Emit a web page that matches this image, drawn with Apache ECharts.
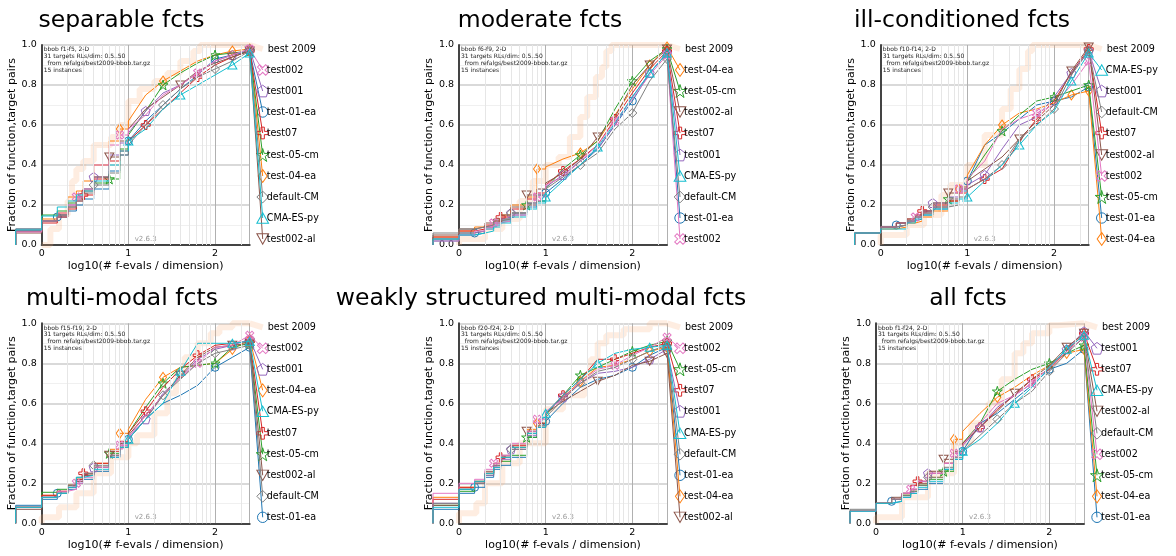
<!DOCTYPE html>
<html>
<head>
<meta charset="utf-8">
<script src="https://cdn.jsdelivr.net/npm/echarts@6/dist/echarts.min.js"></script>
<style>
    html, body { margin: 0; padding: 0; background: #fff; }
    #chart { width: 1176px; height: 556px; }
</style>
</head>
<body>
<div id="chart"></div>
<script>
    // x positions of the ECDF steps, log10(# f-evals / dimension)
    const xs = [-0.3, -0.3, 0, 0.18, 0.3, 0.4, 0.48, 0.6, 0.78, 0.9, 1.0, 1.2, 1.4, 1.6, 1.8, 2.0, 2.2, 2.4]

    const algs = ['test-01-ea', 'test-04-ea', 'test-05-cm', 'test07', 'test001', 'test002-al', 'test002', 'default-CM', 'CMA-ES-py']

    const panelTitles = ['separable fcts', 'moderate fcts', 'ill-conditioned fcts', 'multi-modal fcts', 'weakly structured multi-modal fcts', 'all fcts']
    const funcRanges = ['f1-f5', 'f6-f9', 'f10-f14', 'f15-f19', 'f20-f24', 'f1-f24']
    const xTicks = ['0', '1', '2']

    // fraction of (function,target) pairs, one row per algorithm (same order as algs)
    const sepY = [
        [0, .08, .12, .14, .17, .20, .23, .28, .37, .45, .52, .62, .70, .78, .85, .93, .95, .97],
        [0, .07, .13, .16, .24, .27, .32, .40, .52, .58, .62, .75, .82, .87, .92, .95, .97, .98],
        [0, .07, .15, .17, .21, .24, .28, .31, .33, .48, .55, .67, .80, .86, .91, .95, .96, .97],
        [0, .07, .11, .14, .18, .22, .25, .33, .42, .47, .52, .60, .68, .76, .84, .90, .94, .97],
        [0, .07, .12, .15, .20, .24, .28, .34, .45, .51, .56, .67, .76, .80, .86, .92, .95, .98],
        [0, .06, .12, .15, .19, .23, .27, .34, .44, .52, .58, .68, .74, .80, .87, .91, .94, .97],
        [0, .065, .12, .16, .20, .24, .28, .40, .50, .55, .58, .65, .75, .80, .86, .92, .95, .98],
        [0, .08, .12, .15, .19, .22, .26, .30, .36, .45, .50, .60, .70, .78, .84, .88, .92, .97],
        [0, .075, .145, .19, .22, .25, .27, .32, .40, .47, .52, .58, .68, .75, .80, .85, .90, .96]
    ]
    const modY = [
        [0, .02, .05, .06, .08, .10, .12, .15, .19, .22, .26, .33, .40, .48, .60, .72, .86, .96],
        [0, .04, .07, .09, .10, .12, .15, .20, .24, .38, .39, .43, .46, .52, .65, .78, .90, .99],
        [0, .03, .06, .07, .09, .11, .13, .16, .20, .22, .28, .38, .45, .52, .68, .82, .92, .98],
        [0, .04, .07, .08, .10, .12, .14, .18, .23, .26, .30, .37, .43, .50, .63, .76, .88, .97],
        [0, .03, .06, .07, .09, .11, .13, .16, .21, .25, .29, .35, .42, .48, .60, .74, .86, .96],
        [0, .05, .08, .09, .11, .13, .15, .19, .25, .28, .31, .36, .43, .54, .64, .80, .90, .98],
        [0, .02, .05, .07, .09, .11, .12, .15, .20, .24, .30, .34, .42, .50, .62, .73, .85, .95],
        [0, .06, .08, .09, .10, .12, .13, .16, .21, .25, .28, .34, .40, .46, .58, .66, .82, .93],
        [0, .03, .05, .06, .07, .09, .11, .14, .18, .21, .24, .32, .40, .49, .61, .74, .86, .96]
    ]
    const illY = [
        [0, .06, .09, .10, .12, .13, .15, .18, .22, .27, .32, .50, .56, .63, .70, .72, .74, .79],
        [0, .06, .08, .09, .11, .12, .14, .17, .22, .28, .35, .50, .60, .66, .68, .71, .75, .77],
        [0, .06, .09, .10, .12, .14, .16, .19, .23, .28, .32, .45, .57, .65, .72, .74, .77, .80],
        [0, .06, .09, .11, .13, .15, .17, .20, .22, .26, .28, .33, .38, .52, .63, .72, .86, .98],
        [0, .06, .09, .11, .12, .14, .17, .21, .24, .28, .30, .35, .48, .60, .64, .74, .86, .97],
        [0, .06, .09, .11, .13, .15, .17, .21, .26, .29, .32, .38, .44, .53, .62, .70, .87, .99],
        [0, .06, .09, .10, .12, .14, .16, .19, .23, .28, .33, .42, .58, .63, .66, .70, .80, .92],
        [0, .06, .09, .10, .12, .14, .16, .19, .20, .24, .28, .33, .40, .53, .60, .68, .85, .97],
        [0, .06, .08, .08, .11, .13, .15, .18, .21, .23, .24, .32, .40, .50, .60, .67, .82, .96]
    ]
    const mulY = [
        [0, .09, .12, .15, .17, .20, .22, .26, .33, .38, .42, .52, .60, .64, .69, .78, .83, .88],
        [0, .08, .14, .16, .19, .22, .24, .30, .37, .45, .47, .62, .73, .78, .79, .80, .87, .92],
        [0, .08, .155, .17, .19, .22, .24, .28, .35, .40, .45, .58, .70, .78, .79, .80, .88, .90],
        [0, .08, .14, .16, .19, .22, .25, .30, .36, .41, .45, .56, .68, .77, .84, .89, .90, .91],
        [0, .08, .13, .15, .18, .21, .24, .28, .33, .39, .43, .52, .65, .73, .82, .87, .89, .92],
        [0, .07, .13, .15, .18, .21, .24, .28, .34, .40, .44, .54, .64, .74, .83, .88, .89, .90],
        [0, .08, .13, .16, .17, .20, .23, .28, .34, .39, .43, .54, .64, .73, .80, .88, .89, .94],
        [0, .08, .13, .15, .19, .23, .25, .29, .34, .38, .42, .52, .64, .72, .80, .85, .87, .89],
        [0, .08, .13, .15, .18, .23, .24, .27, .33, .38, .42, .52, .60, .76, .90, .90, .90, .91]
    ]
    const wkY = [
        [0, .07, .15, .18, .23, .27, .29, .33, .43, .48, .51, .60, .68, .72, .74, .78, .84, .88],
        [0, .13, .18, .21, .25, .30, .33, .38, .47, .50, .55, .63, .71, .78, .79, .82, .86, .88],
        [0, .09, .16, .20, .24, .28, .31, .34, .43, .48, .54, .64, .74, .78, .82, .86, .89, .91],
        [0, .12, .18, .20, .25, .29, .33, .39, .46, .50, .55, .64, .72, .82, .82, .85, .88, .90],
        [0, .10, .17, .20, .24, .28, .32, .37, .44, .48, .55, .63, .70, .75, .76, .78, .82, .87],
        [0, .09, .17, .21, .26, .30, .34, .38, .46, .50, .55, .61, .66, .71, .74, .79, .81, .85],
        [0, .15, .20, .22, .27, .30, .34, .40, .46, .52, .56, .62, .71, .77, .79, .84, .88, .93],
        [0, .10, .17, .20, .25, .29, .33, .37, .45, .49, .53, .62, .70, .76, .78, .82, .86, .89],
        [0, .08, .17, .21, .25, .28, .33, .38, .45, .48, .55, .64, .72, .80, .85, .87, .88, .89]
    ]
    const allY = [
        [0, .06, .10, .11, .13, .15, .17, .20, .27, .32, .36, .50, .55, .62, .69, .77, .80, .87],
        [0, .06, .10, .12, .14, .16, .19, .23, .30, .42, .46, .55, .63, .68, .74, .79, .85, .87],
        [0, .06, .10, .12, .14, .16, .19, .22, .26, .35, .40, .50, .66, .72, .77, .80, .85, .89],
        [0, .06, .10, .12, .15, .19, .21, .25, .30, .35, .40, .48, .57, .64, .72, .77, .86, .95],
        [0, .06, .10, .12, .15, .17, .21, .25, .30, .35, .39, .48, .58, .64, .70, .78, .87, .96],
        [0, .06, .10, .13, .15, .17, .20, .26, .32, .36, .40, .48, .56, .65, .72, .79, .88, .95],
        [0, .06, .10, .12, .15, .17, .21, .25, .30, .35, .39, .50, .60, .64, .70, .78, .86, .93],
        [0, .07, .10, .12, .14, .16, .19, .23, .28, .33, .36, .44, .52, .60, .66, .76, .85, .93],
        [0, .06, .10, .11, .13, .15, .18, .21, .27, .32, .36, .42, .50, .60, .68, .78, .87, .94]
    ]

    // best 2009 reference curves [x, y]
    const sepBest = [[0, 0], [0.1, 0.08], [0.2, 0.15], [0.3, 0.22], [0.35, 0.32], [0.4, 0.38], [0.48, 0.42], [0.6, 0.5], [0.8, 0.54], [0.9, 0.6], [1.0, 0.72], [1.13, 0.78], [1.3, 0.82], [1.45, 0.86], [1.6, 0.92], [1.75, 0.97], [1.83, 1.0], [2.4, 1.0]]
    const modBest = [[0, 0], [0, 0.03], [0.3, 0.08], [0.5, 0.13], [0.7, 0.22], [0.85, 0.32], [1.0, 0.4], [1.15, 0.44], [1.28, 0.54], [1.4, 0.64], [1.48, 0.74], [1.58, 0.84], [1.65, 0.89], [1.7, 0.97], [1.76, 1.0], [2.4, 1.0]]
    const illBest = [[0, 0], [0, 0.05], [0.3, 0.1], [0.5, 0.15], [0.7, 0.25], [0.8, 0.3], [1.0, 0.4], [1.2, 0.55], [1.4, 0.68], [1.5, 0.78], [1.6, 0.88], [1.7, 0.97], [1.75, 1.0], [2.4, 1.0]]
    const mulBest = [[0, 0], [0, 0.03], [0.2, 0.08], [0.4, 0.15], [0.6, 0.25], [0.8, 0.33], [1.0, 0.4], [1.1, 0.44], [1.3, 0.55], [1.45, 0.65], [1.55, 0.75], [1.65, 0.83], [1.8, 0.9], [1.95, 0.95], [2.05, 0.98], [2.2, 1.0], [2.4, 1.0]]
    const wkBest = [[0, 0], [0, 0.05], [0.2, 0.1], [0.3, 0.2], [0.5, 0.3], [0.7, 0.4], [1.0, 0.57], [1.2, 0.64], [1.45, 0.73], [1.52, 0.82], [1.6, 0.9], [1.7, 0.94], [1.9, 0.97], [2.2, 1.0], [2.4, 1.0]]
    const allBest = [[0, 0], [0, 0.03], [0.3, 0.13], [0.6, 0.25], [0.9, 0.4], [1.1, 0.5], [1.3, 0.6], [1.45, 0.72], [1.6, 0.85], [1.7, 0.9], [1.8, 0.95], [2.0, 0.99], [2.1, 1.0], [2.4, 1.0]]

    // order of the legend entries on the right of each panel
    const sepOrder = ['best 2009', 'test002', 'test001', 'test-01-ea', 'test07', 'test-05-cm', 'test-04-ea', 'default-CM', 'CMA-ES-py', 'test002-al']
    const modOrder = ['best 2009', 'test-04-ea', 'test-05-cm', 'test002-al', 'test07', 'test001', 'CMA-ES-py', 'default-CM', 'test-01-ea', 'test002']
    const illOrder = ['best 2009', 'CMA-ES-py', 'test001', 'default-CM', 'test07', 'test002-al', 'test002', 'test-05-cm', 'test-01-ea', 'test-04-ea']
    const mulOrder = ['best 2009', 'test002', 'test001', 'test-04-ea', 'CMA-ES-py', 'test07', 'test-05-cm', 'test002-al', 'default-CM', 'test-01-ea']
    const wkOrder = ['best 2009', 'test002', 'test-05-cm', 'test07', 'test001', 'CMA-ES-py', 'default-CM', 'test-01-ea', 'test-04-ea', 'test002-al']
    const allOrder = ['best 2009', 'test001', 'test07', 'CMA-ES-py', 'test002-al', 'default-CM', 'test002', 'test-05-cm', 'test-04-ea', 'test-01-ea']

    const panels = [
        { ys: sepY, best: sepBest, order: sepOrder },
        { ys: modY, best: modBest, order: modOrder },
        { ys: illY, best: illBest, order: illOrder },
        { ys: mulY, best: mulBest, order: mulOrder },
        { ys: wkY, best: wkBest, order: wkOrder },
        { ys: allY, best: allBest, order: allOrder }
    ]

    // layout / style
    const font = 'DejaVu Sans'
    const gridPos = [[41.7, 45], [459, 45], [880.7, 45], [41.7, 323.3], [459, 323.3], [876, 323.3]]
    const gridW = 208
    const gridH = 200
    const xMax = 2.4
    const unit = gridW / xMax
    // wider, invisible grid used for drawing so that lines may leave the frame
    const ovMin = -0.4
    const ovMax = 2.9
    const titleX = [121.5, 540, 962, 122, 541, 968]
    const titleY = [21, 21, 21, 299, 299, 299]
    const labelX = 2.55
    const labelSlots = [0.98, 0.875, 0.77, 0.665, 0.56, 0.45, 0.345, 0.24, 0.135, 0.03]
    const colors = ['#1f77b4', '#ff7f0e', '#2ca02c', '#d62728', '#9467bd', '#8c564b', '#e377c2', '#7f7f7f', '#17becf']
    const bestColor = 'rgba(250, 175, 120, 0.22)'
    const star = 'path://M50,2 L61,36 L97,36 L68,57 L79,92 L50,70 L21,92 L32,57 L3,36 L39,36 Z'
    const plus = 'path://M36,0 H64 V36 H100 V64 H64 V100 H36 V64 H0 V36 H36 Z'
    const pentagon = 'path://M50,0 L100,36 L81,95 L19,95 L0,36 Z'
    const triDown = 'path://M0,0 L100,0 L50,87 Z'
    const symbols = ['circle', 'diamond', star, plus, pentagon, triDown, plus, 'diamond', 'triangle']
    const symRotate = [0, 0, 0, 0, 0, 0, 45, 0, 0]
    const symSize = [[8, 8], [7, 10], [10, 10], [9, 9], [9, 9], [9, 8], [9, 9], [9, 9], [9, 8]]
    const markIdx = [[3, 10, 15], [9, 12, 16], [8, 12, 15], [6, 11, 14], [7, 11, 16], [8, 13, 16], [5, 9, 14], [7, 12, 15], [10, 13, 16]]
    const splitAt = 10
    const labelFont = 9.6

    // minor vertical grid lines at log positions
    let minorX = []
    for (let d = 0; d < 3; d++) {
        for (let k = 2; k < 10; k++) {
            let v = d + Math.log10(k)
            if (v < xMax) minorX.push({ xAxis: v })
        }
    }

    let grid = []
    let xAxis = []
    let yAxis = []
    let series = []
    let graphic = []
    const n = gridPos.length

    gridPos.forEach((pos, p) => {
        grid.push({ left: pos[0], top: pos[1], width: gridW, height: gridH })
        xAxis.push({
            gridIndex: p, type: 'value', min: 0, max: xMax, interval: 1,
            axisLine: { lineStyle: { color: '#999', width: 1 } },
            axisTick: { show: false },
            axisLabel: {
                fontSize: 9.5, color: '#000', fontFamily: font, margin: 4, showMaxLabel: false,
                formatter: v => Number.isInteger(v) ? xTicks[v] : ''
            },
            splitLine: { lineStyle: { color: '#b0b0b0', width: 1 } },
            name: 'log10(# f-evals / dimension)', nameLocation: 'middle', nameGap: 16,
            nameTextStyle: { fontSize: 11, color: '#000', fontFamily: font }
        })
        yAxis.push({
            gridIndex: p, type: 'value', min: 0, max: 1, interval: 0.2,
            axisLine: { show: false },
            axisTick: { show: false },
            axisLabel: { fontSize: 9.5, color: '#000', fontFamily: font, margin: 5, formatter: v => v.toFixed(1) },
            splitLine: { lineStyle: { color: '#cdcdcd', width: 1.5 } },
            minorTick: { show: false, splitNumber: 2 },
            minorSplitLine: { show: true, lineStyle: { color: '#f0f0f0', width: 1 } },
            name: 'Fraction of function,target pairs', nameLocation: 'middle', nameGap: 22,
            nameTextStyle: { fontSize: 11, color: '#000', fontFamily: font }
        })
    })
    // dark top and right frame
    gridPos.forEach((pos, p) => {
        xAxis.push({
            gridIndex: p, type: 'value', min: 0, max: xMax, position: 'top',
            axisLine: { show: true, lineStyle: { color: '#444', width: 2 } },
            axisTick: { show: false }, axisLabel: { show: false }, splitLine: { show: false }
        })
        yAxis.push({
            gridIndex: p, type: 'value', min: 0, max: 1, position: 'right',
            axisLine: { show: true, lineStyle: { color: '#444', width: 2 } },
            axisTick: { show: false }, axisLabel: { show: false }, splitLine: { show: false }
        })
    })
    // overlay drawing grids with the same scale
    gridPos.forEach((pos, p) => {
        grid.push({ left: pos[0] + ovMin * unit, top: pos[1], width: (ovMax - ovMin) * unit, height: gridH })
        xAxis.push({ gridIndex: n + p, type: 'value', min: ovMin, max: ovMax, show: false })
        yAxis.push({ gridIndex: n + p, type: 'value', min: 0, max: 1, show: false })
    })

    panels.forEach((pn, p) => {
        let ax = 2 * n + p
        // minor vertical grid lines on the visible grid
        series.push({
            type: 'line', xAxisIndex: p, yAxisIndex: p, silent: true, symbol: 'none', z: 0,
            data: [[0, 0]], lineStyle: { width: 0 },
            markLine: {
                silent: true, symbol: ['none', 'none'], label: { show: false }, animation: false,
                lineStyle: { color: '#e6e6e6', width: 1, type: 'solid' },
                data: minorX
            }
        })
        // best 2009 background curve
        series.push({
            type: 'line', xAxisIndex: ax, yAxisIndex: ax, step: 'end', clip: false, silent: true,
            symbol: 'none', z: 1, data: pn.best,
            lineStyle: { color: bestColor, width: 6 }
        })
        let last = pn.best[pn.best.length - 1]
        series.push({
            type: 'line', xAxisIndex: ax, yAxisIndex: ax, clip: false, silent: true,
            symbol: 'none', z: 1, name: 'best 2009',
            data: [last, [labelX, labelSlots[0]]],
            lineStyle: { color: bestColor, width: 6 },
            endLabel: { show: true, formatter: 'best 2009', color: '#000', fontSize: labelFont, fontFamily: font, distance: 5 }
        })

        algs.forEach((alg, a) => {
            let pts = xs.map((x, i) => [x, pn.ys[a][i]])
            let mk = (pt, i) => (markIdx[a].indexOf(i) >= 0 || i === xs.length - 1) ? pt : { value: pt, symbol: 'none' }
            let stepData = pts.slice(0, splitAt + 1).map((pt, i) => mk(pt, i))
            let lineData = pts.slice(splitAt).map((pt, j) => j === 0 ? { value: pt, symbol: 'none' } : mk(pt, j + splitAt))
            let slot = pn.order.indexOf(alg)
            lineData.push({
                value: [labelX, labelSlots[slot]],
                symbolSize: [symSize[a][0] * 1.3, symSize[a][1] * 1.3]
            })
            let common = {
                type: 'line', xAxisIndex: ax, yAxisIndex: ax, clip: false, silent: true, name: alg,
                symbol: symbols[a], symbolSize: symSize[a], symbolRotate: symRotate[a], z: 3 + a * 0.01,
                lineStyle: { color: colors[a], width: 1 },
                itemStyle: { color: 'rgba(255,255,255,0)', borderColor: colors[a], borderWidth: 1 }
            }
            series.push(Object.assign({}, common, { step: 'end', data: stepData }))
            series.push(Object.assign({}, common, {
                data: lineData,
                endLabel: { show: true, formatter: alg, color: '#000', fontSize: labelFont, fontFamily: font, distance: 4 }
            }))
        })

        let left = gridPos[p][0]
        let top = gridPos[p][1]
        graphic.push({
            type: 'text', x: titleX[p], y: titleY[p], silent: true,
            style: { text: panelTitles[p], fontSize: 23.5, fontFamily: font, fill: '#000', align: 'center', verticalAlign: 'middle' }
        })
        graphic.push({
            type: 'text', x: left + 2, y: top + 1.5, silent: true, z: 10,
            style: {
                text: 'bbob ' + funcRanges[p] + ', 2-D\n31 targets RLs/dim: 0.5..50\n  from refalgs/best2009-bbob.tar.gz\n15 instances',
                fontSize: 6, lineHeight: 6.7, fontFamily: font, fill: '#222', align: 'left', verticalAlign: 'top'
            }
        })
        graphic.push({
            type: 'text', x: left + gridW / 2, y: top + gridH - 6, silent: true,
            style: { text: 'v2.6.3', fontSize: 7, fontFamily: font, fill: '#999', align: 'center', verticalAlign: 'middle' }
        })
    })

    let chart = echarts.init(document.getElementById('chart'), null, { renderer: 'canvas' })
    chart.setOption({
        animation: false,
        backgroundColor: '#fff',
        textStyle: { fontFamily: font },
        grid: grid,
        xAxis: xAxis,
        yAxis: yAxis,
        series: series,
        graphic: graphic
    })
</script>
</body>
</html>
